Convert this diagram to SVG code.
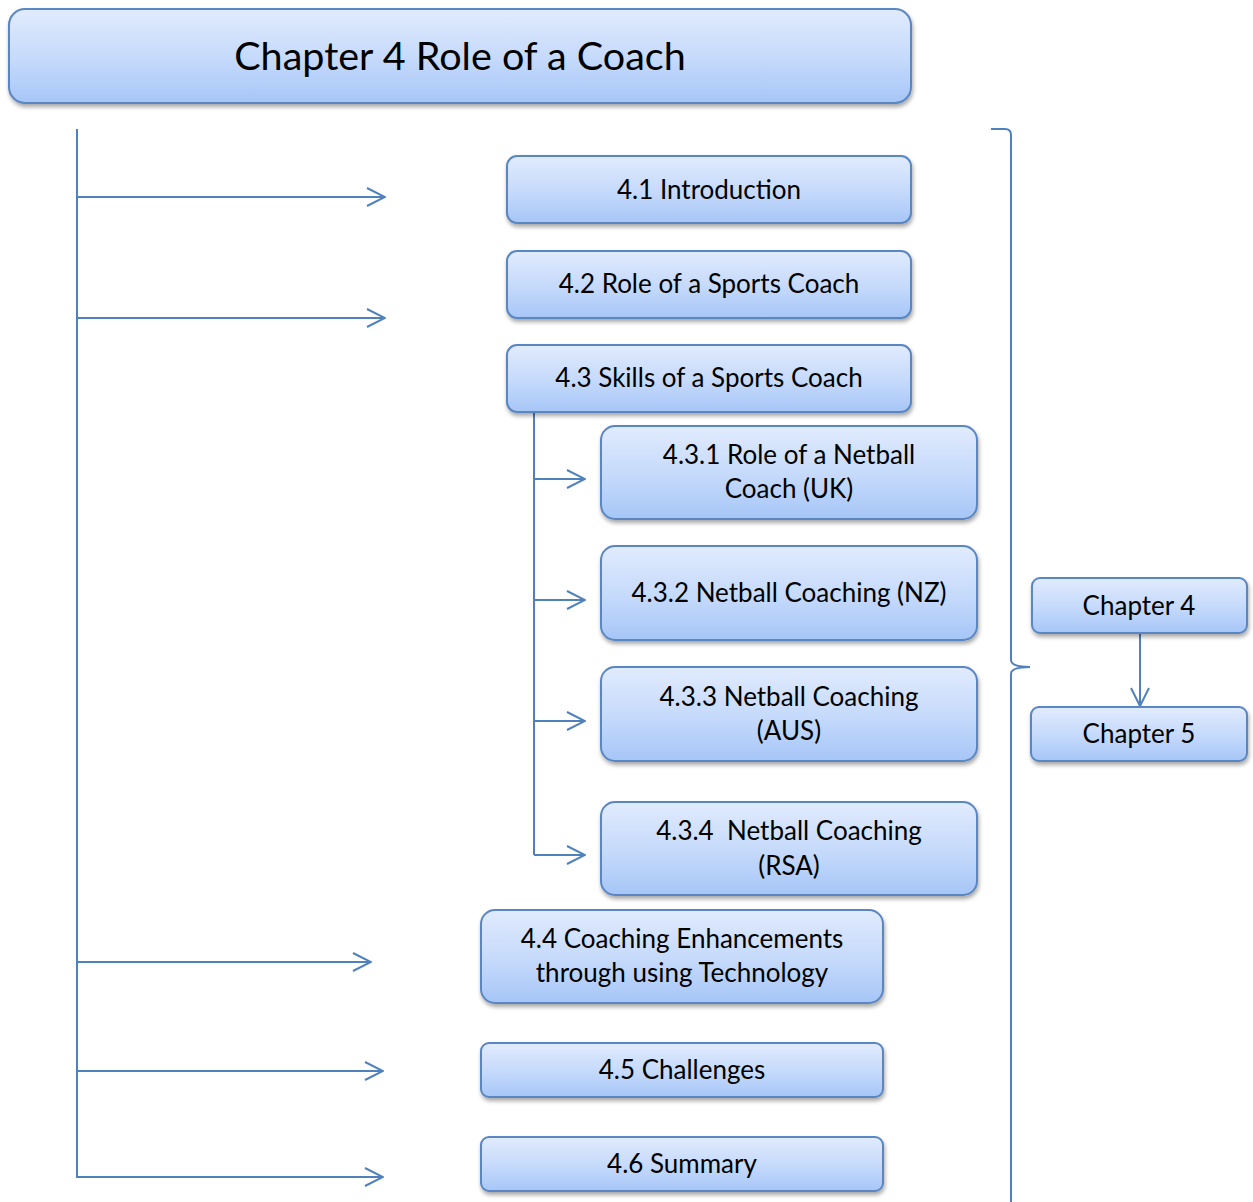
<svg xmlns="http://www.w3.org/2000/svg" width="1253" height="1202" viewBox="0 0 1253 1202">
  <defs>
    <linearGradient id="boxFill" x1="0" y1="0" x2="0" y2="1">
      <stop offset="0" stop-color="#e1ebfd"/>
      <stop offset="0.55" stop-color="#c4d9fb"/>
      <stop offset="1" stop-color="#a6c6f7"/>
    </linearGradient>
    <filter id="shadow" x="-5%" y="-10%" width="110%" height="130%">
      <feGaussianBlur in="SourceAlpha" stdDeviation="2"/>
      <feOffset dx="1" dy="3" result="b"/>
      <feComponentTransfer><feFuncA type="linear" slope="0.35"/></feComponentTransfer>
      <feMerge><feMergeNode/><feMergeNode in="SourceGraphic"/></feMerge>
    </filter>
    <marker id="openBig" viewBox="0 0 20 20" refX="19" refY="10" markerWidth="20" markerHeight="20" markerUnits="userSpaceOnUse" orient="auto">
      <path d="M1,1 L19,10 L1,19" fill="none" stroke="#4f81bd" stroke-width="2"/>
    </marker>
  </defs>
  <style>
    .box { fill: url(#boxFill); stroke: #5a86c2; stroke-width: 2; filter: url(#shadow); }
    .lbl { font-family: Lato, "Open Sans", sans-serif; font-size: 26px; fill: #000; text-anchor: middle; }
    .title { font-family: Lato, "Open Sans", sans-serif; font-size: 39.5px; fill: #000; text-anchor: middle; }
    .wire { fill: none; stroke: #4f81bd; stroke-width: 2; }
  </style>
  <rect width="1253" height="1202" fill="#fff"/>

  <g id="connectors">
    <line class="wire" x1="77" y1="129" x2="77" y2="1178"/>
    <line class="wire" x1="77" y1="197" x2="385" y2="197" marker-end="url(#openBig)"/>
    <line class="wire" x1="77" y1="318" x2="385" y2="318" marker-end="url(#openBig)"/>
    <line class="wire" x1="77" y1="962" x2="371" y2="962" marker-end="url(#openBig)"/>
    <line class="wire" x1="77" y1="1071" x2="383" y2="1071" marker-end="url(#openBig)"/>
    <line class="wire" x1="77" y1="1177" x2="383" y2="1177" marker-end="url(#openBig)"/>
    <line class="wire" x1="534" y1="412" x2="534" y2="855"/>
    <line class="wire" x1="534" y1="479" x2="585" y2="479" marker-end="url(#openBig)"/>
    <line class="wire" x1="534" y1="600" x2="585" y2="600" marker-end="url(#openBig)"/>
    <line class="wire" x1="534" y1="721" x2="585" y2="721" marker-end="url(#openBig)"/>
    <line class="wire" x1="534" y1="855" x2="585" y2="855" marker-end="url(#openBig)"/>
    <path class="wire" d="M991,129 L1005,129 Q1011,129 1011,135 L1011,660 Q1011,667 1030,667 M1011,674 Q1011,667 1030,667 M1011,674 L1011,1202"/>
    <line class="wire" x1="1140" y1="633" x2="1140" y2="706" marker-end="url(#openBig)"/>
  </g>

  <g id="title">
    <rect class="box" x="9" y="9" width="902" height="94" rx="16"/>
    <text class="title" x="460" y="70">Chapter 4 Role of a Coach</text>
  </g>
  <g id="n41">
    <rect class="box" x="507" y="156" width="404" height="67" rx="10"/>
    <text class="lbl" x="709" y="199">4.1 Introduction</text>
  </g>
  <g id="n42">
    <rect class="box" x="507" y="251" width="404" height="67" rx="10"/>
    <text class="lbl" x="709" y="293">4.2 Role of a Sports Coach</text>
  </g>
  <g id="n43">
    <rect class="box" x="507" y="345" width="404" height="67" rx="10"/>
    <text class="lbl" x="709" y="387">4.3 Skills of a Sports Coach</text>
  </g>
  <g id="n431">
    <rect class="box" x="601" y="426" width="376" height="93" rx="14"/>
    <text class="lbl" x="789" y="464">4.3.1 Role of a Netball</text>
    <text class="lbl" x="789" y="498">Coach (UK)</text>
  </g>
  <g id="n432">
    <rect class="box" x="601" y="546" width="376" height="94" rx="14"/>
    <text class="lbl" x="789" y="602">4.3.2 Netball Coaching (NZ)</text>
  </g>
  <g id="n433">
    <rect class="box" x="601" y="667" width="376" height="94" rx="14"/>
    <text class="lbl" x="789" y="706">4.3.3 Netball Coaching</text>
    <text class="lbl" x="789" y="740">(AUS)</text>
  </g>
  <g id="n434">
    <rect class="box" x="601" y="802" width="376" height="93" rx="14"/>
    <text class="lbl" x="789" y="840" xml:space="preserve">4.3.4  Netball Coaching</text>
    <text class="lbl" x="789" y="875">(RSA)</text>
  </g>
  <g id="n44">
    <rect class="box" x="481" y="910" width="402" height="93" rx="14"/>
    <text class="lbl" x="682" y="948">4.4 Coaching Enhancements</text>
    <text class="lbl" x="682" y="982">through using Technology</text>
  </g>
  <g id="n45">
    <rect class="box" x="481" y="1043" width="402" height="54" rx="8"/>
    <text class="lbl" x="682" y="1079">4.5 Challenges</text>
  </g>
  <g id="n46">
    <rect class="box" x="481" y="1137" width="402" height="54" rx="8"/>
    <text class="lbl" x="682" y="1173">4.6 Summary</text>
  </g>
  <g id="ch4">
    <rect class="box" x="1032" y="578" width="215" height="55" rx="8"/>
    <text class="lbl" x="1139" y="615">Chapter 4</text>
  </g>
  <g id="ch5">
    <rect class="box" x="1031" y="707" width="216" height="54" rx="8"/>
    <text class="lbl" x="1139" y="743">Chapter 5</text>
  </g>
</svg>
